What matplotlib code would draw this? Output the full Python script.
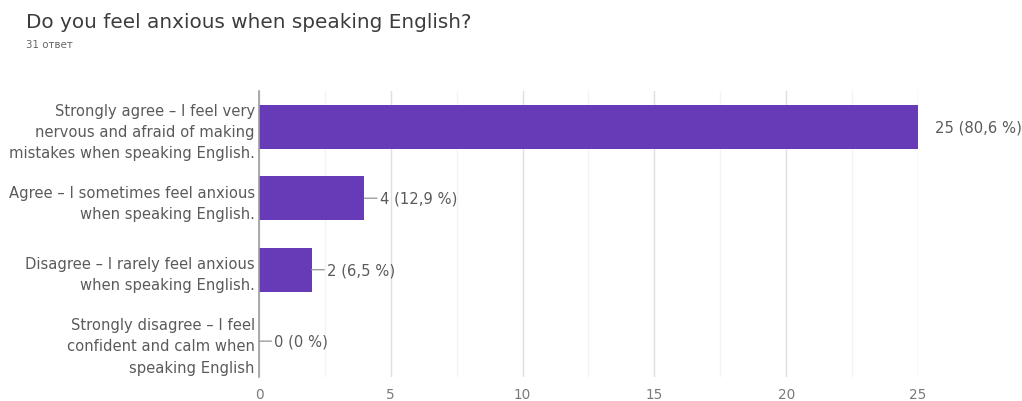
import matplotlib
matplotlib.use("Agg")
import matplotlib.pyplot as plt
from matplotlib.ticker import MultipleLocator

plt.rcParams["font.family"] = ["DejaVu Sans"]

title = "Do you feel anxious when speaking English?"
subtitle = "31 ответ"
categories = [
    "Strongly agree – I feel very\nnervous and afraid of making\nmistakes when speaking English.",
    "Agree – I sometimes feel anxious\nwhen speaking English.",
    "Disagree – I rarely feel anxious\nwhen speaking English.",
    "Strongly disagree – I feel\nconfident and calm when\nspeaking English",
]
counts = [25, 4, 2, 0]
percents = ["80,6", "12,9", "6,5", "0"]
xticks = [0, 5, 10, 15, 20, 25]

BAR = "#673ab7"
TEXT = "#5a5a5a"

fig = plt.figure(figsize=(10.22, 4.02), dpi=100)
ax = fig.add_axes([0.2534, 0.06, 0.6448, 0.711])

ypos = list(range(len(categories)))
ax.barh(ypos, counts, height=0.62, color=BAR, zorder=3)
ax.set_ylim(3.5, -0.5)
ax.set_xlim(0, 25)

ax.set_xticks(xticks)
ax.xaxis.set_minor_locator(MultipleLocator(2.5))
ax.grid(axis="x", which="major", color="#e0e0e0", linewidth=1, zorder=0)
ax.grid(axis="x", which="minor", color="#f3f3f3", linewidth=1, zorder=0)
ax.tick_params(axis="x", which="both", length=0, pad=7, labelsize=9.8, labelcolor="#7a7a7a")

ax.set_yticks(ypos)
ax.set_yticklabels(categories, fontsize=10.6, color=TEXT, linespacing=1.52)
ax.tick_params(axis="y", length=0, pad=3)

for side in ["top", "right", "bottom"]:
    ax.spines[side].set_visible(False)
ax.spines["left"].set_color("#9e9e9e")
ax.spines["left"].set_linewidth(1.2)
ax.spines["left"].set_zorder(4)

# value labels with a short leader line from the bar end
for y, c, p in zip(ypos, counts, percents):
    label = f"{c} ({p} %)"
    if c == max(counts):
        ax.annotate(label, xy=(c, y), xytext=(12.5, 0), textcoords="offset points",
                    va="center", ha="left", fontsize=10.6, color=TEXT,
                    annotation_clip=False)
    else:
        ax.annotate(label, xy=(c, y), xytext=(11, 0), textcoords="offset points",
                    va="center", ha="left", fontsize=10.6, color=TEXT,
                    arrowprops=dict(arrowstyle="-", color="#9e9e9e", lw=1,
                                    shrinkA=0, shrinkB=0),
                    annotation_clip=False)

fig.text(26 / 1022, 1 - 22 / 402, title, fontsize=14.4, color="#3c3c3c",
         ha="left", va="center")
fig.text(26 / 1022, 1 - 45 / 402, subtitle, fontsize=7.4, color="#666666",
         ha="left", va="center")

fig.savefig("out.png", dpi=100)
